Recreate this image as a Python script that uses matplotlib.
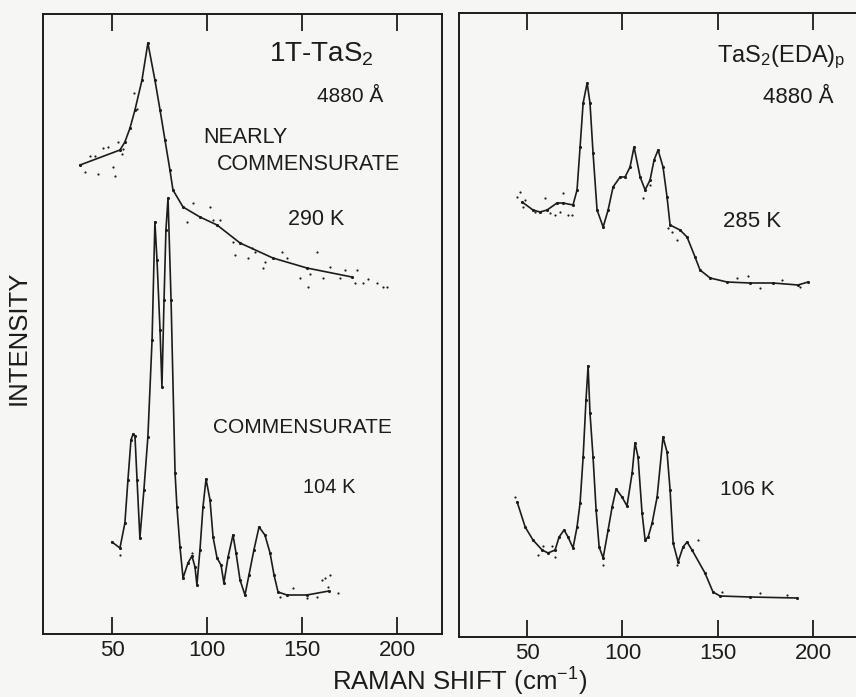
import numpy as np
import matplotlib
matplotlib.use("Agg")
import matplotlib.pyplot as plt

plt.rcParams['font.family'] = ['Liberation Sans', 'DejaVu Sans']
plt.rcParams['mathtext.fontset'] = 'custom'
plt.rcParams['mathtext.rm'] = 'Liberation Sans'
plt.rcParams['mathtext.it'] = 'Liberation Sans:italic'

INK = '#1c1c1c'
PAPER = '#f6f6f4'

# ---- 1T-TaS2, 290 K (nearly commensurate) ----
nc_x = [33.2, 54.2, 56.8, 59.5, 62.1, 65.8, 68.9, 72.6, 75.3, 77.9, 80.5, 82.1,
        87.4, 96.3, 105.3, 117.4, 134.7, 152.6, 176.3]
nc_y = [469, 484, 492, 506, 524, 554, 591, 554, 524, 494, 464, 444,
        427, 417, 409, 391, 376, 366, 357]
nc_dots_x = [35.8, 38.4, 41.1, 42.6, 45.3, 47.9, 50.5, 51.6, 53.2, 55.3, 55.8, 61.6, 63.2,
             89.5, 92.6, 101.6, 103.2, 106.8,
             113.7, 114.7, 117.4, 121.6, 123.7, 125.3, 129.5, 130.5, 139.5, 142.1, 148.9,
             153.2, 154.2, 157.9, 161.1, 164.7, 170.0, 172.6, 177.9, 178.9, 182.1, 184.7,
             189.5, 192.6, 194.7]
nc_dots_y = [462, 478, 478, 460, 486, 487, 467, 458, 492, 480, 485, 541, 525,
             412, 431, 427, 414, 414,
             392, 379, 391, 376, 386, 382, 366, 372, 382, 376, 356,
             347, 360, 382, 356, 367, 356, 364, 351, 364, 351, 355,
             351, 347, 347]

# ---- 1T-TaS2, 104 K (commensurate) ----
c_x = [50.0, 54.2, 56.8, 58.4, 60.0, 61.1, 62.1, 63.2, 64.7, 66.8, 68.9, 71.1, 72.6,
       73.7, 75.3, 76.3, 77.4, 78.4, 79.5, 81.1, 83.2, 84.2, 85.8, 87.4, 90.0, 92.1,
       93.7, 94.7, 96.3, 97.9, 99.5, 101.6, 103.2, 105.3, 107.4, 108.9, 111.1, 113.7,
       115.3, 117.4, 120.0, 122.1, 124.7, 127.4, 130.5, 133.2, 135.3, 137.4, 142.1,
       152.6, 164.2]
c_y = [92, 86, 111, 154, 194, 200, 198, 154, 96, 144, 197, 294, 412,
       374, 304, 247, 334, 404, 436, 334, 161, 127, 87, 56, 71, 78,
       67, 49, 84, 127, 155, 134, 97, 76, 69, 51, 77, 99,
       81, 54, 39, 59, 84, 107, 99, 81, 59, 42, 39,
       39, 43]
c_dots_x = [54.2, 92.1, 138.4, 145.3, 152.6, 157.9, 160.5, 162.1, 164.7, 163.7, 168.9]
c_dots_y = [79, 81, 37, 46, 36, 37, 54, 56, 59, 47, 41]

# ---- TaS2(EDA)p, 285 K ----
e_x = [47.4, 53.1, 56.8, 60.5, 65.7, 68.9, 74.1, 76.2, 77.8, 79.4, 81.5, 83.0, 84.6,
       86.7, 89.9, 92.5, 95.1, 98.8, 101.4, 104.0, 106.1, 109.3, 111.9, 114.5, 116.6,
       118.7, 121.3, 123.4, 125.0, 130.2, 133.9, 138.1, 140.7, 146.0, 154.9, 166.9,
       179.0, 192.1, 197.4]
e_y = [435, 427, 425, 427, 434, 434, 432, 447, 490, 534, 554, 534, 484,
       427, 410, 427, 450, 460, 460, 470, 490, 460, 447, 457, 477,
       487, 470, 440, 412, 407, 400, 380, 367, 359, 355, 354,
       354, 352, 355]
e_dots_x = [44.8, 46.3, 47.9, 49.0, 54.2, 59.4, 62.1, 64.7, 67.3, 68.9, 71.5, 73.6,
            110.8, 114.5, 123.9, 126.0, 128.7, 160.1, 165.9, 172.2, 183.7, 193.2]
e_dots_y = [440, 445, 430, 437, 425, 439, 424, 422, 425, 444, 422, 422,
            439, 452, 409, 405, 397, 359, 361, 349, 357, 350]

# ---- TaS2(EDA)p, 106 K ----
f_x = [44.8, 49.0, 53.1, 57.9, 61.0, 64.7, 66.8, 69.4, 71.5, 74.1, 76.2, 77.8, 79.4,
       80.9, 82.0, 83.0, 84.6, 86.2, 87.8, 89.9, 92.5, 94.6, 96.7, 99.8, 102.4, 105.1,
       106.6, 108.2, 110.3, 111.9, 113.5, 115.6, 118.2, 121.3, 123.4, 125.0, 126.6,
       129.2, 131.8, 133.9, 136.5, 143.3, 147.5, 151.2, 166.9, 191.6]
f_y = [135, 110, 97, 87, 84, 87, 100, 107, 100, 89, 110, 134, 180,
       237, 271, 224, 180, 127, 90, 79, 107, 130, 148, 140, 131, 164,
       194, 180, 124, 97, 100, 114, 140, 200, 185, 147, 94,
       75, 90, 95, 87, 64, 45, 41, 40, 39]
f_dots_x = [43.7, 55.8, 58.4, 63.1, 64.7, 89.9, 128.7, 139.7, 152.3, 172.2, 186.3]
f_dots_y = [140, 82, 91, 91, 80, 72, 72, 97, 45, 44, 42]

ticks = [50, 100, 150, 200]

fig = plt.figure(figsize=(8.56, 6.97), dpi=100, facecolor=PAPER)
axl = fig.add_axes([43 / 856, 63 / 697, 399 / 856, 620 / 697])
axr = fig.add_axes([459 / 856, 60 / 697, 401 / 856, 624 / 697])


def style(ax, xlim, ylim):
    ax.set_facecolor(PAPER)
    ax.set_xlim(*xlim)
    ax.set_ylim(*ylim)
    ax.set_xticks(ticks)
    ax.set_xticklabels([str(t) for t in ticks])
    ax.set_yticks([])
    ax.tick_params(axis='x', direction='in', length=12, width=1.3, top=True,
                   labelsize=16, pad=4, colors=INK)
    for s in ax.spines.values():
        s.set_linewidth(1.4)
        s.set_color(INK)


def spectrum(ax, x, y, dx, dy):
    ax.plot(x, y, color=INK, lw=1.2, marker='.', ms=2.5)
    ax.scatter(dx, dy, s=2.5, color=INK, lw=0)


style(axl, (13.7, 223.7), (0, 620))
style(axr, (14.3, 224.6), (0, 624))

spectrum(axl, nc_x, nc_y, nc_dots_x, nc_dots_y)
spectrum(axl, c_x, c_y, c_dots_x, c_dots_y)
spectrum(axr, e_x, e_y, e_dots_x, e_dots_y)
spectrum(axr, f_x, f_y, f_dots_x, f_dots_y)

tk = dict(color=INK, va='baseline')
axl.text(160.0, 572, '1T-TaS$_2$', ha='center', fontsize=20, **tk)
axl.text(175.3, 532, '4880 Å', ha='center', fontsize=15, **tk)
axl.text(97.9, 491, 'NEARLY', ha='left', fontsize=15.5, **tk)
axl.text(105.3, 464, 'COMMENSURATE', ha='left', fontsize=15.5, **tk)
axl.text(142.6, 409, '290 K', ha='left', fontsize=15.5, **tk)
axl.text(103.2, 201, 'COMMENSURATE', ha='left', fontsize=15, **tk)
axl.text(150.5, 141, '104 K', ha='left', fontsize=14.5, **tk)

axr.text(149.6, 575, 'TaS$_2$(EDA)$_\\mathrm{p}$', ha='left', fontsize=17, **tk)
axr.text(173.8, 534, '4880 Å', ha='left', fontsize=16, **tk)
axr.text(152.8, 410, '285 K', ha='left', fontsize=16, **tk)
axr.text(151.2, 142, '106 K', ha='left', fontsize=15, **tk)

fig.text(19 / 856, 1 - 338 / 697, 'INTENSITY', rotation=90, ha='center', va='center',
         fontsize=18.5, color=INK)
fig.text(460 / 856, 1 - 682 / 697, 'RAMAN SHIFT (cm$^{-1}$)', ha='center', va='center',
         fontsize=18.5, color=INK)

fig.savefig('out.png', dpi=100, facecolor=PAPER)
